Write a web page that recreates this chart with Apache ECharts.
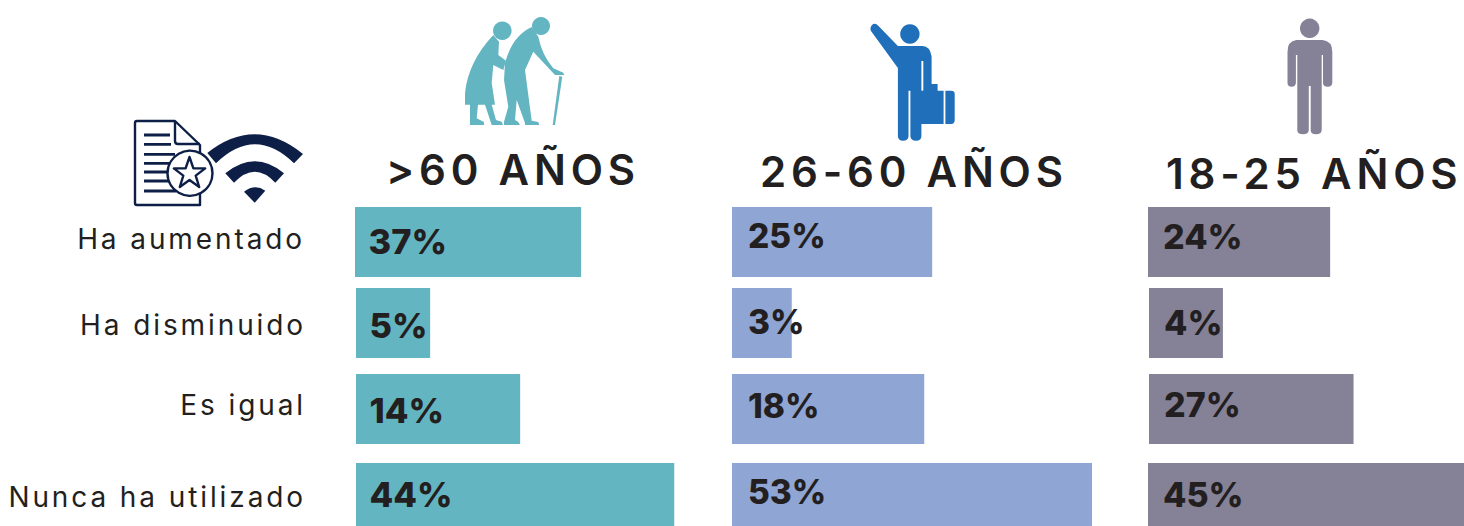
<!DOCTYPE html>
<html>
<head>
<meta charset="utf-8">
<style>
html,body{margin:0;padding:0;background:#fff;overflow:hidden}
#chart{width:1464px;height:526px}
#chart text[style*="42px"]{letter-spacing:4.8px}
#chart text[style*="28px"]{letter-spacing:2.9px}
</style>
<script src="https://cdn.jsdelivr.net/npm/echarts@6/dist/echarts.min.js"></script>
</head>
<body>
<div id="chart"></div>
<script>
// ---- data ----
const categories = ['Ha aumentado', 'Ha disminuido', 'Es igual', 'Nunca ha utilizado'];
const ageGroups = ['>60 AÑOS', '26-60 AÑOS', '18-25 AÑOS'];
// Percentages as printed on the bars.
const printedOver60 = ['37%', '5%', '14%', '44%'];
const printed26to60 = ['25%', '3%', '18%', '53%'];
const printed18to25 = ['24%', '4%', '27%', '45%'];
// Bar lengths as drawn in the source graphic, which are not proportional to
// the printed percentages; in axis units.
const lengthOver60 = [31.4, 10.3, 22.8, 44.2];
const length26to60 = [27.8, 8.3, 26.7, 50];
const length18to25 = [25.3, 10.3, 28.5, 43.9];

// ---- layout and style ----
const printed = [printedOver60, printed26to60, printed18to25];
const lengths = [lengthOver60, length26to60, length18to25];
const colors = ['#64B5C2', '#8FA5D3', '#858297'];
const ink = '#231F20', navy = '#0E1F47', blue = '#1F6FBA';
const pxPerUnit = 7.2;
const rowTop = [207, 288, 374, 463];
const rowH = [70, 70, 70, 63];
const panelLeft = [[355, 356, 356, 356], [732, 732, 732, 732], [1148, 1149, 1149, 1148]];
const panelW = [340, 380, 316];
const labelDist = [13.5, 16, 15];
const labelSize = [34.5, 33.5, 34];
const labelDy = [[-1, 2, 1, 0], [-6, -1, -3, -2.5], [-6, -1, -5, 0]];
const catDy = [-3, 2, -4, 2.5];
const titlePos = [[386, 148], [760, 150], [1166, 152]];

const grid = [], xAxis = [], yAxis = [], series = [];
printed.forEach((vals, p) => {
  vals.forEach((txt, r) => {
    const i = grid.length;
    grid.push({left: panelLeft[p][r], top: rowTop[r], width: panelW[p], height: rowH[r]});
    xAxis.push({type: 'value', gridIndex: i, show: false, min: 0, max: panelW[p] / pxPerUnit});
    const d = catDy[r];
    yAxis.push({
      type: 'category', gridIndex: i, data: [categories[r]], show: p === 0,
      axisLine: {show: false}, axisTick: {show: false},
      axisLabel: {
        show: p === 0, margin: 50, color: ink, align: 'right',
        verticalAlign: d > 0 ? 'top' : 'bottom', lineHeight: 2 * Math.abs(d),
        fontFamily: 'Inter', fontSize: 28, fontWeight: 400
      }
    });
    series.push({
      type: 'bar', xAxisIndex: i, yAxisIndex: i, barWidth: '100%', silent: true,
      data: [lengths[p][r]], itemStyle: {color: colors[p]},
      label: {
        show: true, position: 'insideLeft', distance: labelDist[p], offset: [0, labelDy[p][r]],
        formatter: () => txt, color: ink, fontFamily: 'Inter', fontSize: labelSize[p], fontWeight: 800
      }
    });
  });
});

const title = ageGroups.map((t, p) => ({
  text: t, left: titlePos[p][0], top: titlePos[p][1], padding: 0,
  textStyle: {color: ink, fontFamily: 'Inter', fontSize: 42, fontWeight: 600}
}));

let shapeId = 0;
const reg = (d) => {
  const name = 'icon' + (shapeId++);
  echarts.graphic.registerShape(name, echarts.graphic.extendPath(d, {}));
  return name;
};
const P = (d, fill) => ({type: reg(d), silent: true, style: {fill}});
const S = (d, stroke, fill, w) => ({type: reg(d), silent: true, style: {fill: fill || 'none', stroke, lineWidth: w, lineJoin: 'round'}});
const C = (cx, cy, r, fill) => ({type: 'circle', silent: true, shape: {cx, cy, r}, style: {fill}});

const teal = colors[0], grey = colors[2];
const docLines = [[135, 170], [144.3, 171], [154.3, 175], [163.3, 172], [172, 170], [181, 170], [191, 176]]
  .map(([y, x2]) => `M144 ${y}L${x2} ${y}`).join('');
const graphic = [
  // document with star + wifi
  S('M137 121L175 121L200 145L200 205L137 205Q135 205 135 203L135 123Q135 121 137 121Z', navy, '#fff', 2.4),
  S('M175 121L175 141Q175 144 178 144L200 144', navy, 'none', 2.4),
  S(docLines, navy, 'none', 2.8),
  {type: 'circle', silent: true, shape: {cx: 190, cy: 173.3, r: 22.5}, style: {fill: '#fff', stroke: navy, lineWidth: 2.4}},
  S('M189.5 157L193.4 168.4L205.2 168.4L195.7 175.6L199.2 187L189.5 180.1L179.8 187L183.3 175.6L173.8 168.4L185.6 168.4Z', navy, 'none', 2.4),
  P('M207.3 153Q255 115.1 303 154L294 163.3Q255 125.3 216 163.3Z', navy),
  P('M225.3 173.3Q255 149.3 284 173.3L275.3 182.7Q255 160.7 234 182.7Z', navy),
  P('M254.7 202.7L244 191.7Q255 183.4 265.3 190.7Z', navy),
  // elderly couple
  C(502.3, 30.7, 9.3, teal),
  C(541, 26, 9, teal),
  P('M493.3 35Q468 62 465 93.3L465 104.7L470 104.7L470 125L484 125L484 122L476.7 118.3L478 104.7L485 104.7L491.7 125L503 125L501.7 121.7L496 120L491.7 104.7L495 104.7L491.7 83L493.3 65L503.3 70L506 60.7L498.3 55L499 41.7Z', teal),
  P('M531.7 27Q512 36 505 63.3L504 80L508.3 106.7L504 121.7L504 125L520 125L518 121.7L515 120L516.7 100L525 123L525 125L539.3 125L538.3 122L531.7 120.7L525 70L533.3 51.7L555 75L564.3 75L563.3 72.7L553.3 68.3Q542 55 538.3 36.7Z', teal),
  P('M552.7 125L555 125L562.3 76.7L559.3 76Z', teal),
  // traveller with briefcase
  C(909.9, 34, 9.7, blue),
  P('M878.5 26Q875 22 872 25Q869.5 28 871 31L897.9 68L897.9 136Q898 140.7 903 140.7Q908.5 140.7 908.5 136L908.5 90.7L910.4 90.7L910.4 136Q910.5 140.7 916 140.7Q921.4 140.7 921.4 136L921.4 124L943.6 124L943.6 90.7L937.6 90.7L937.6 84L931.6 84L931.6 56.7Q930 46 922.4 46L897.9 46Z', blue),
  P('M921.4 61L923.3 61L923.3 90.7L921.4 90.7Z', '#fff'),
  P('M945.4 90.7L951 90.7Q954.7 90.7 954.7 94L954.7 120Q954.7 124 951 124L945.4 124Z', blue),
  // standing person
  C(1309.7, 28.3, 9.7, grey),
  P('M1296.3 40L1322.7 40Q1332.3 41 1332.3 52L1332.3 83Q1332 86.7 1327.7 86.7Q1323 86.7 1323 83L1323 55L1321.7 55L1321.7 130Q1321.5 134.3 1316 134.3Q1310.7 134.3 1310.7 130L1310.7 86L1308.8 86L1308.8 130Q1308.5 134.3 1303 134.3Q1297.3 134.3 1297.3 130L1297.3 55L1295.9 55L1295.9 83Q1295.5 86.7 1291.7 86.7Q1287.5 86.7 1287.5 83L1287.5 52Q1287.5 41 1296.3 40Z', grey)
];

const chart = echarts.init(document.getElementById('chart'), null, {renderer: 'svg'});
chart.setOption({animation: false, backgroundColor: '#fff', title, grid, xAxis, yAxis, series, graphic, tooltip: {show: false}});
</script>
</body>
</html>
